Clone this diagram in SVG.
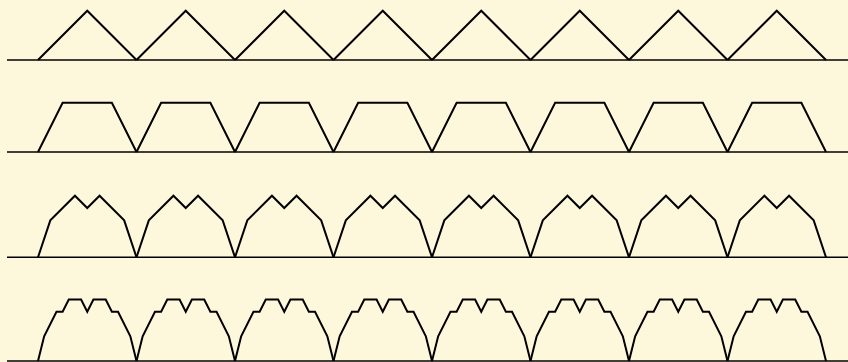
<svg xmlns="http://www.w3.org/2000/svg" xmlns:xlink="http://www.w3.org/1999/xlink" width="848" height="362" viewBox="0 0 848 362">
<style>
.base{stroke:#000;stroke-width:1.4;fill:none}
.curve{stroke:#000;stroke-width:2;fill:none;stroke-linejoin:miter}
</style>
<defs>
<path id="s1" class="curve" d="M0,0 l49.25,-49.25 l49.25,49.25"/>
<path id="s2" class="curve" d="M0,0 l24.625,-49.25 h49.25 l24.625,49.25"/>
<path id="s3" class="curve" d="M0,0 l12.3125,-36.9375 l24.625,-24.625 l12.3125,12.3125 l12.3125,-12.3125 l24.625,24.625 l12.3125,36.9375"/>
<path id="s4" class="curve" d="M0,0 l6.15625,-24.625 l12.3125,-24.625 h6.15625 l6.15625,-12.3125 h12.3125 l6.15625,12.3125 l6.15625,-12.3125 h12.3125 l6.15625,12.3125 h6.15625 l12.3125,24.625 l6.15625,24.625"/>
</defs>
<rect width="848" height="362" fill="#fdf7dc"/>
<g id="row1">
<line class="base" x1="7" y1="60" x2="848" y2="60"/>
<use xlink:href="#s1" x="38" y="60"/><use xlink:href="#s1" x="136.5" y="60"/><use xlink:href="#s1" x="235" y="60"/><use xlink:href="#s1" x="333.5" y="60"/><use xlink:href="#s1" x="432" y="60"/><use xlink:href="#s1" x="530.5" y="60"/><use xlink:href="#s1" x="629" y="60"/><use xlink:href="#s1" x="727.5" y="60"/>
</g>
<g id="row2">
<line class="base" x1="7" y1="152" x2="848" y2="152"/>
<use xlink:href="#s2" x="38" y="152"/><use xlink:href="#s2" x="136.5" y="152"/><use xlink:href="#s2" x="235" y="152"/><use xlink:href="#s2" x="333.5" y="152"/><use xlink:href="#s2" x="432" y="152"/><use xlink:href="#s2" x="530.5" y="152"/><use xlink:href="#s2" x="629" y="152"/><use xlink:href="#s2" x="727.5" y="152"/>
</g>
<g id="row3">
<line class="base" x1="7" y1="257.3" x2="848" y2="257.3"/>
<use xlink:href="#s3" x="38" y="257.3"/><use xlink:href="#s3" x="136.5" y="257.3"/><use xlink:href="#s3" x="235" y="257.3"/><use xlink:href="#s3" x="333.5" y="257.3"/><use xlink:href="#s3" x="432" y="257.3"/><use xlink:href="#s3" x="530.5" y="257.3"/><use xlink:href="#s3" x="629" y="257.3"/><use xlink:href="#s3" x="727.5" y="257.3"/>
</g>
<g id="row4">
<line class="base" x1="7" y1="361" x2="848" y2="361"/>
<use xlink:href="#s4" x="38" y="361"/><use xlink:href="#s4" x="136.5" y="361"/><use xlink:href="#s4" x="235" y="361"/><use xlink:href="#s4" x="333.5" y="361"/><use xlink:href="#s4" x="432" y="361"/><use xlink:href="#s4" x="530.5" y="361"/><use xlink:href="#s4" x="629" y="361"/><use xlink:href="#s4" x="727.5" y="361"/>
</g>
</svg>
